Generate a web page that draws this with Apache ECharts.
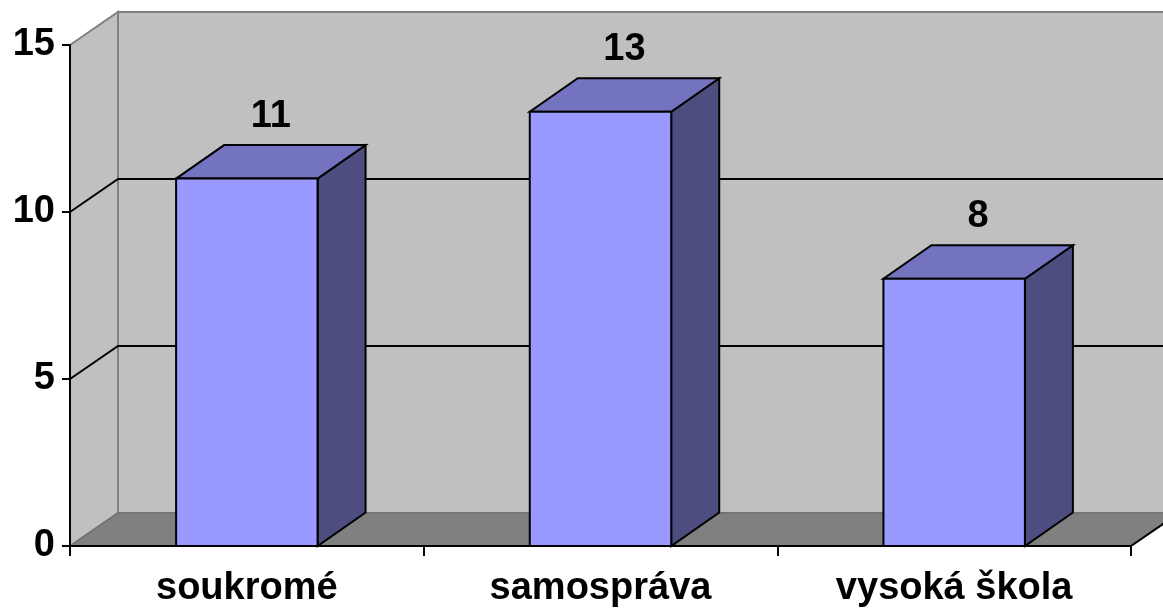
<!DOCTYPE html>
<html>
<head>
<meta charset="utf-8">
<script src="https://cdn.jsdelivr.net/npm/echarts@6/dist/echarts.min.js"></script>
<style>html,body{margin:0;padding:0;background:#fff;}#c{width:1163px;height:610px;}</style>
</head>
<body>
<div id="c"></div>
<script>
const categories = ['soukromé', 'samospráva', 'vysoká škola'];
const values = [11, 13, 8];
const gridValues = [5, 10];
const yMax = 15;

const FONT = '"Liberation Sans", Arial, sans-serif';
const WDX = 48, WDY = 33;   // wall depth
const BDX = 48, BDY = 33.5; // bar depth

const chart = echarts.init(document.getElementById('c'));

function renderWalls(params, api) {
  const cs = params.coordSys;
  const xL = cs.x, xR = cs.x + cs.width, yT = cs.y, yB = cs.y + cs.height;
  const ch = [];
  ch.push({type: 'polygon', shape: {points: [[xL + WDX, yT - WDY], [xR + WDX, yT - WDY], [xR + WDX, yB - WDY], [xL + WDX, yB - WDY]]},
    style: {fill: '#C0C0C0', stroke: '#808080', lineWidth: 2}});
  ch.push({type: 'polygon', shape: {points: [[xL, yT], [xL + WDX, yT - WDY], [xL + WDX, yB - WDY], [xL, yB]]},
    style: {fill: '#C0C0C0', stroke: '#808080', lineWidth: 2}});
  ch.push({type: 'polygon', shape: {points: [[xL, yB], [xR, yB], [xR + WDX, yB - WDY], [xL + WDX, yB - WDY]]},
    style: {fill: '#808080', stroke: '#707070', lineWidth: 1.5}});
  ch.push({type: 'line', shape: {x1: xR, y1: yB, x2: xR + WDX, y2: yB - WDY}, style: {stroke: '#000', lineWidth: 2}});
  gridValues.forEach(v => {
    const y = api.coord([0, v])[1];
    ch.push({type: 'polyline', shape: {points: [[xL, y], [xL + WDX, y - WDY], [xR + WDX, y - WDY]]},
      style: {fill: null, stroke: '#000', lineWidth: 2}});
  });
  return {type: 'group', children: ch};
}

function renderBar(params, api) {
  const idx = api.value(0);
  const top = api.coord([idx, api.value(1)]);
  const base = api.coord([idx, 0]);
  const bw = api.size([1, 0])[0] * 0.4;
  const x0 = top[0] - bw / 2, x1 = top[0] + bw / 2, yT = top[1], yB = base[1];
  const stroke = {stroke: '#000', lineWidth: 2, lineJoin: 'miter'};
  return {
    type: 'group',
    children: [
      {type: 'polygon', shape: {points: [[x1, yT], [x1 + BDX, yT - BDY], [x1 + BDX, yB - BDY], [x1, yB]]},
        style: Object.assign({fill: '#4D4D80'}, stroke)},
      {type: 'polygon', shape: {points: [[x0, yT], [x1, yT], [x1 + BDX, yT - BDY], [x0 + BDX, yT - BDY]]},
        style: Object.assign({fill: '#7373BF'}, stroke)},
      {type: 'rect', shape: {x: x0, y: yT, width: bw, height: yB - yT},
        style: Object.assign({fill: '#9999FF'}, stroke)},
      {type: 'text', x: top[0] + BDX / 2, y: yT - BDY - 29,
        style: {text: String(api.value(1)), fill: '#000', font: 'bold 38px ' + FONT, align: 'center', verticalAlign: 'middle'}}
    ]
  };
}

chart.setOption({
  animation: false,
  grid: {left: 70, right: 32, top: 45, bottom: 64, containLabel: false},
  xAxis: {
    type: 'category', data: categories, boundaryGap: true,
    axisLine: {lineStyle: {color: '#000', width: 2}},
    axisTick: {show: true, length: 10, alignWithLabel: false, lineStyle: {color: '#000', width: 2}},
    axisLabel: {color: '#000', fontFamily: FONT, fontWeight: 'bold', fontSize: 38, margin: 24, interval: 0},
    splitLine: {show: false}
  },
  yAxis: {
    type: 'value', min: 0, max: yMax, interval: 5,
    axisLine: {show: true, lineStyle: {color: '#000', width: 2}},
    axisTick: {show: true, length: 8, lineStyle: {color: '#000', width: 2}},
    axisLabel: {color: '#000', fontFamily: FONT, fontWeight: 'bold', fontSize: 38, margin: 15},
    splitLine: {show: false}
  },
  series: [
    {type: 'custom', z: -10, silent: true, data: [[0, 0]], renderItem: renderWalls, clip: false},
    {type: 'custom', z: 5, data: values.map((v, i) => [i, v]), renderItem: renderBar, clip: false}
  ]
});
</script>
</body>
</html>
